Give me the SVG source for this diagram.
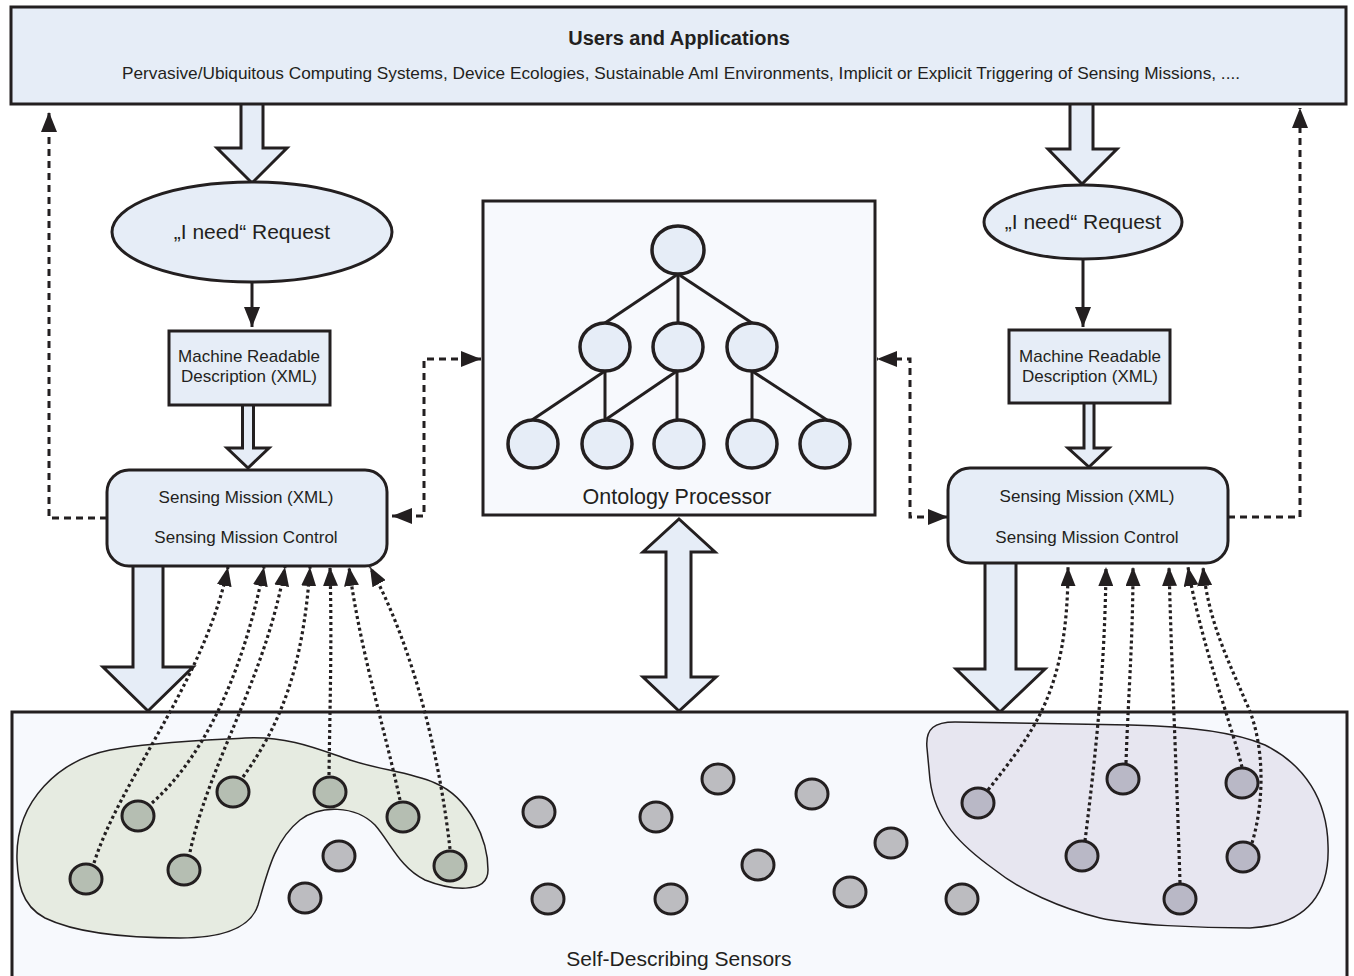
<svg xmlns="http://www.w3.org/2000/svg" width="1354" height="976" viewBox="0 0 1354 976">
  <style>
    .box { fill: #e6edf7; stroke: #231f20; stroke-width: 3; }
    .pale { fill: #f7f9fd; stroke: #231f20; stroke-width: 3; }
    .hollow { fill: #e6edf7; stroke: #231f20; stroke-width: 3; stroke-linejoin: miter; }
    .txt { font-family: "Liberation Sans", Arial, sans-serif; fill: #231f20; text-anchor: middle; }
    .dash { fill: none; stroke: #231f20; stroke-width: 3; stroke-dasharray: 7 5; }
    .dot { fill: none; stroke: #231f20; stroke-width: 3.2; stroke-dasharray: 3 3; }
    .solid { fill: none; stroke: #231f20; stroke-width: 3; }
    .tree { fill: none; stroke: #231f20; stroke-width: 3; }
    .tnode { fill: #e6edf7; stroke: #231f20; stroke-width: 3.5; }
    .sg { fill: #bcbcc0; stroke: #231f20; stroke-width: 3; }
    .sgreen { fill: #b5beb2; stroke: #231f20; stroke-width: 3; }
    .spurple { fill: #b9b8c6; stroke: #231f20; stroke-width: 3; }
  </style>
  <defs>
    <marker id="head" markerUnits="userSpaceOnUse" viewBox="0 0 20 16" markerWidth="20" markerHeight="16" refX="20" refY="8" orient="auto-start-reverse">
      <path d="M0,0 L20,8 L0,16 Z" fill="#231f20"/>
    </marker>
    <marker id="dothead" markerUnits="userSpaceOnUse" viewBox="0 0 19 15" markerWidth="19" markerHeight="15" refX="19" refY="7.5" orient="auto">
      <path d="M0,0 L19,7.5 L0,15 Z" fill="#231f20"/>
    </marker>
  </defs>

  <rect width="1354" height="976" fill="#ffffff"/>

  <!-- hollow block arrows (drawn under the boxes they touch) -->
  <g id="block-arrows">
    <polygon class="hollow" points="241,100 263,100 263,148 287,148 252,183 217,148 241,148"/>
    <polygon class="hollow" points="1070,100 1093,100 1093,149 1117,149 1082,184 1048,149 1070,149"/>
    <polygon class="hollow" points="242.5,403 253.5,403 253.5,448 269,448 248,468 227,448 242.5,448"/>
    <polygon class="hollow" points="1084,401 1094,401 1094,448 1109,448 1089,467 1068,448 1084,448"/>
    <polygon class="hollow" points="133,562 163,562 163,667 193,667 148,711 103,667 133,667"/>
    <polygon class="hollow" points="985,560 1016,560 1016,669 1045,669 1000,712 956,669 985,669"/>
    <polygon class="hollow" points="679,519 715,552 691,552 691,677 716,677 679,711 643,677 666,677 666,552 643,552"/>
  </g>

  <!-- sensor field -->
  <g id="sensor-field">
    <rect class="pale" x="12" y="712" width="1335" height="280"/>
    <path d="M 17,860 C 15,800 60,760 110,750 C 150,742 210,740 245,738 C 290,736 320,750 350,760 C 380,770 410,772 435,783 C 470,798 488,840 488,870 C 488,895 450,890 425,880 C 400,868 390,842 375,825 C 355,805 320,805 300,820 C 275,840 268,870 258,905 C 250,930 220,938 180,938 C 140,938 80,935 45,918 C 20,905 18,880 17,860 Z" fill="#e6ebe1" stroke="#231f20" stroke-width="1.5"/>
    <path d="M 927,748 C 925,728 935,722 955,722 L 1130,725 C 1180,726 1230,730 1265,745 C 1305,765 1327,800 1328,845 C 1330,890 1310,925 1250,928 C 1200,928 1130,925 1100,918 C 1060,908 1020,890 995,870 C 960,845 935,820 930,780 Z" fill="#e7e6f0" stroke="#231f20" stroke-width="1.5"/>
    <text class="txt" x="679" y="966" font-size="21">Self-Describing Sensors</text>
  </g>

  <g id="sensors-free">
    <ellipse class="sg" cx="339" cy="856" rx="16" ry="15"/>
    <ellipse class="sg" cx="305" cy="898" rx="16" ry="15"/>
    <ellipse class="sg" cx="539" cy="812" rx="16" ry="15"/>
    <ellipse class="sg" cx="656" cy="817" rx="16" ry="15"/>
    <ellipse class="sg" cx="718" cy="779" rx="16" ry="15"/>
    <ellipse class="sg" cx="812" cy="794" rx="16" ry="15"/>
    <ellipse class="sg" cx="891" cy="843" rx="16" ry="15"/>
    <ellipse class="sg" cx="758" cy="865" rx="16" ry="15"/>
    <ellipse class="sg" cx="548" cy="899" rx="16" ry="15"/>
    <ellipse class="sg" cx="671" cy="899" rx="16" ry="15"/>
    <ellipse class="sg" cx="850" cy="892" rx="16" ry="15"/>
    <ellipse class="sg" cx="962" cy="899" rx="16" ry="15"/>
  </g>

  <!-- top bar -->
  <g id="users-applications">
    <rect class="box" x="11" y="7" width="1335" height="97"/>
    <text class="txt" x="679" y="45" font-size="20" font-weight="bold">Users and Applications</text>
    <text class="txt" x="681" y="79" font-size="17" textLength="1118" lengthAdjust="spacingAndGlyphs">Pervasive/Ubiquitous Computing Systems, Device Ecologies, Sustainable AmI Environments, Implicit or Explicit Triggering of Sensing Missions, ....</text>
  </g>

  <!-- left chain -->
  <g id="request-left">
    <ellipse class="box" cx="252" cy="232" rx="140" ry="50"/>
    <text class="txt" x="252" y="239" font-size="21">„I need“ Request</text>
  </g>
  <g id="description-left">
    <rect class="box" x="169" y="331" width="161" height="74"/>
    <text class="txt" x="249" y="362" font-size="17">Machine Readable</text>
    <text class="txt" x="249" y="382" font-size="17">Description (XML)</text>
  </g>
  <g id="mission-left">
    <rect class="box" x="107" y="470" width="280" height="96" rx="22"/>
    <text class="txt" x="246" y="503" font-size="17">Sensing Mission (XML)</text>
    <text class="txt" x="246" y="543" font-size="17">Sensing Mission Control</text>
  </g>

  <!-- right chain -->
  <g id="request-right">
    <ellipse class="box" cx="1083" cy="222" rx="99" ry="37"/>
    <text class="txt" x="1083" y="229" font-size="21">„I need“ Request</text>
  </g>
  <g id="description-right">
    <rect class="box" x="1009" y="330" width="161" height="73"/>
    <text class="txt" x="1090" y="362" font-size="17">Machine Readable</text>
    <text class="txt" x="1090" y="382" font-size="17">Description (XML)</text>
  </g>
  <g id="mission-right">
    <rect class="box" x="948" y="468" width="280" height="95" rx="22"/>
    <text class="txt" x="1087" y="502" font-size="17">Sensing Mission (XML)</text>
    <text class="txt" x="1087" y="543" font-size="17">Sensing Mission Control</text>
  </g>

  <!-- ontology processor -->
  <g id="ontology-processor">
    <rect class="pale" x="483" y="201" width="392" height="314"/>
    <g class="tree">
      <line x1="678" y1="274" x2="605" y2="323"/>
      <line x1="678" y1="274" x2="678" y2="323"/>
      <line x1="678" y1="274" x2="752" y2="323"/>
      <line x1="605" y1="371" x2="532" y2="420"/>
      <line x1="605" y1="371" x2="605" y2="420"/>
      <line x1="677" y1="371" x2="605" y2="420"/>
      <line x1="677" y1="371" x2="677" y2="420"/>
      <line x1="752" y1="371" x2="752" y2="420"/>
      <line x1="752" y1="371" x2="827" y2="420"/>
    </g>
    <ellipse class="tnode" cx="678" cy="250" rx="26" ry="24"/>
    <ellipse class="tnode" cx="605" cy="347" rx="25" ry="24"/>
    <ellipse class="tnode" cx="678" cy="347" rx="25" ry="24"/>
    <ellipse class="tnode" cx="752" cy="347" rx="25" ry="24"/>
    <ellipse class="tnode" cx="533" cy="444" rx="25" ry="24"/>
    <ellipse class="tnode" cx="607" cy="444" rx="25" ry="24"/>
    <ellipse class="tnode" cx="679" cy="444" rx="25" ry="24"/>
    <ellipse class="tnode" cx="752" cy="444" rx="25" ry="24"/>
    <ellipse class="tnode" cx="825" cy="444" rx="25" ry="24"/>
    <text class="txt" x="677" y="504" font-size="21.5">Ontology Processor</text>
  </g>

  <!-- connectors -->
  <g id="connectors">
    <line class="solid" x1="252" y1="283" x2="252" y2="327" marker-end="url(#head)"/>
    <line class="solid" x1="1083" y1="259" x2="1083" y2="327" marker-end="url(#head)"/>
    <path class="dash" d="M 107,518 H 49 V 112" marker-end="url(#head)"/>
    <path class="dash" d="M 1228,517 H 1300 V 108" marker-end="url(#head)"/>
    <path class="dash" d="M 392,516 H 424 V 359 H 481" marker-start="url(#head)" marker-end="url(#head)"/>
    <path class="dash" d="M 948,517 H 910 V 359 H 877" marker-start="url(#head)" marker-end="url(#head)"/>

    <path class="dot" d="M 94,863 C 120,780 205,680 228,567" marker-end="url(#dothead)"/>
    <path class="dot" d="M 152,803 C 195,765 240,690 264,567" marker-end="url(#dothead)"/>
    <path class="dot" d="M 190,852 C 210,760 265,680 285,567" marker-end="url(#dothead)"/>
    <path class="dot" d="M 243,777 C 280,725 303,670 310,567" marker-end="url(#dothead)"/>
    <path class="dot" d="M 329,775 C 330,700 332,640 330,567" marker-end="url(#dothead)"/>
    <path class="dot" d="M 400,800 C 385,730 360,650 349,567" marker-end="url(#dothead)"/>
    <path class="dot" d="M 450,849 C 440,760 415,650 370,567" marker-end="url(#dothead)"/>

    <path class="dot" d="M 988,790 C 1035,730 1068,690 1068,567" marker-end="url(#dothead)"/>
    <path class="dot" d="M 1085,841 C 1095,760 1105,670 1106,567" marker-end="url(#dothead)"/>
    <path class="dot" d="M 1126,763 C 1128,700 1133,640 1133,567" marker-end="url(#dothead)"/>
    <path class="dot" d="M 1180,883 C 1177,780 1172,680 1169,567" marker-end="url(#dothead)"/>
    <path class="dot" d="M 1242,767 C 1230,720 1200,640 1188,567" marker-end="url(#dothead)"/>
    <path class="dot" d="M 1252,843 C 1265,800 1265,740 1245,700 C 1228,660 1208,620 1203,567" marker-end="url(#dothead)"/>
  </g>

  <!-- sensors inside mission groups -->
  <g id="sensors-left-group">
    <ellipse class="sgreen" cx="86" cy="879" rx="16" ry="15"/>
    <ellipse class="sgreen" cx="138" cy="816" rx="16" ry="15"/>
    <ellipse class="sgreen" cx="184" cy="870" rx="16" ry="15"/>
    <ellipse class="sgreen" cx="233" cy="792" rx="16" ry="15"/>
    <ellipse class="sgreen" cx="330" cy="792" rx="16" ry="15"/>
    <ellipse class="sgreen" cx="403" cy="817" rx="16" ry="15"/>
    <ellipse class="sgreen" cx="450" cy="866" rx="16" ry="15"/>
  </g>
  <g id="sensors-right-group">
    <ellipse class="spurple" cx="978" cy="803" rx="16" ry="15"/>
    <ellipse class="spurple" cx="1123" cy="779" rx="16" ry="15"/>
    <ellipse class="spurple" cx="1242" cy="783" rx="16" ry="15"/>
    <ellipse class="spurple" cx="1082" cy="856" rx="16" ry="15"/>
    <ellipse class="spurple" cx="1243" cy="857" rx="16" ry="15"/>
    <ellipse class="spurple" cx="1180" cy="899" rx="16" ry="15"/>
  </g>
</svg>
